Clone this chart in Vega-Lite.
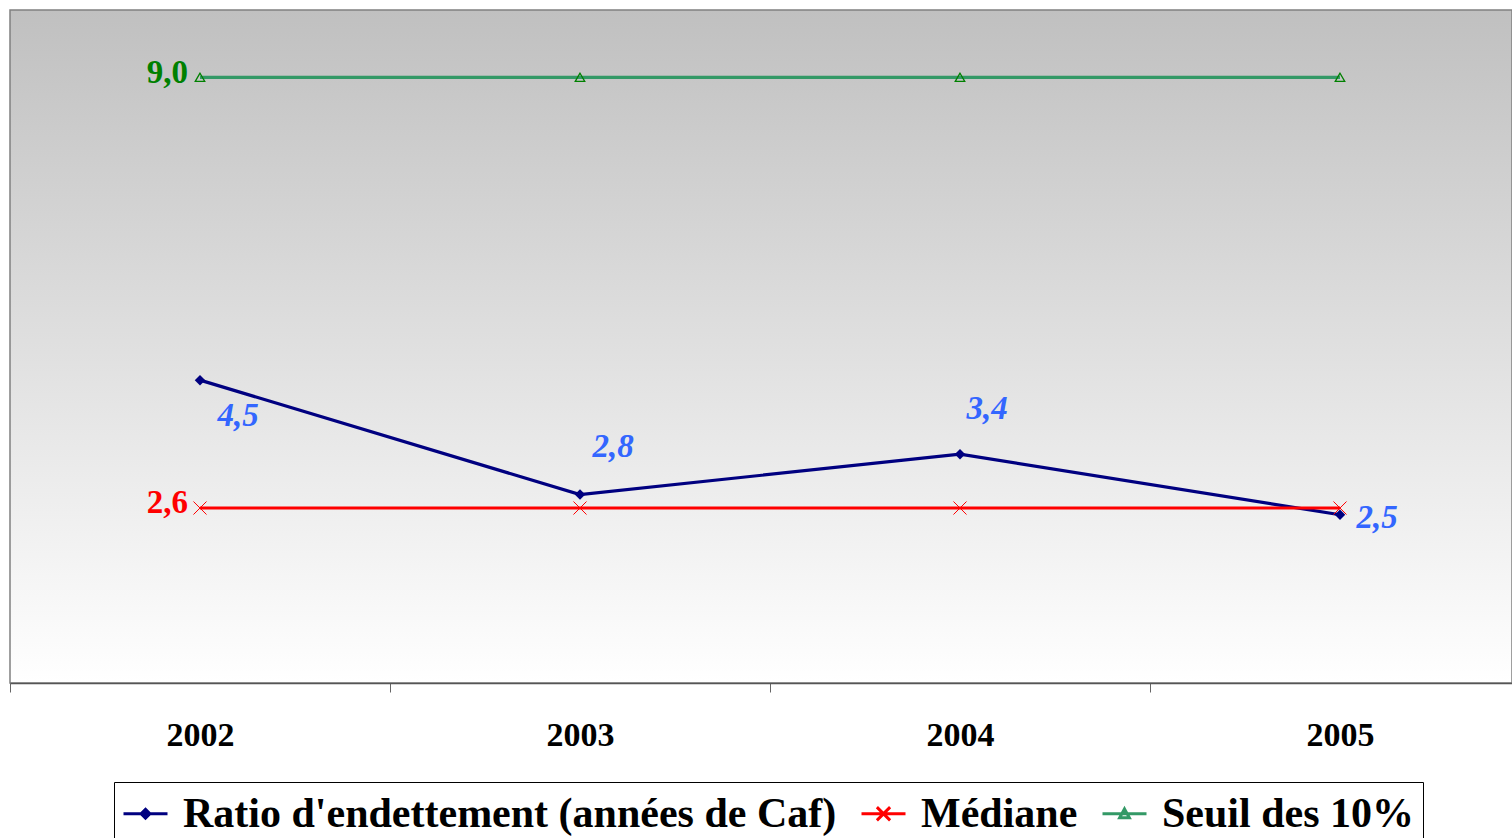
{
  "$schema": "https://vega.github.io/schema/vega-lite/v6.json",
  "width": 1502,
  "height": 673,
  "autosize": {"type": "none"},
  "padding": {"left": 10, "top": 10, "right": 0, "bottom": 155},
  "background": "white",
  "config": {
    "view": {
      "fill": {"gradient": "linear", "x1": 0, "y1": 0, "x2": 0, "y2": 1,
        "stops": [{"offset": 0, "color": "#c0c0c0"}, {"offset": 1, "color": "#ffffff"}]},
      "stroke": "#808080",
      "strokeWidth": 1.5
    },
    "font": "Liberation Serif"
  },
  "data": {
    "values": [
      {"year": "2002", "serie": "Ratio d'endettement (années de Caf)", "value": 4.5, "label": "4,5"},
      {"year": "2003", "serie": "Ratio d'endettement (années de Caf)", "value": 2.8, "label": "2,8"},
      {"year": "2004", "serie": "Ratio d'endettement (années de Caf)", "value": 3.4, "label": "3,4"},
      {"year": "2005", "serie": "Ratio d'endettement (années de Caf)", "value": 2.5, "label": "2,5"},
      {"year": "2002", "serie": "Médiane", "value": 2.6, "label": "2,6"},
      {"year": "2003", "serie": "Médiane", "value": 2.6, "label": "2,6"},
      {"year": "2004", "serie": "Médiane", "value": 2.6, "label": "2,6"},
      {"year": "2005", "serie": "Médiane", "value": 2.6, "label": "2,6"},
      {"year": "2002", "serie": "Seuil des 10%", "value": 9.0, "label": "9,0"},
      {"year": "2003", "serie": "Seuil des 10%", "value": 9.0, "label": "9,0"},
      {"year": "2004", "serie": "Seuil des 10%", "value": 9.0, "label": "9,0"},
      {"year": "2005", "serie": "Seuil des 10%", "value": 9.0, "label": "9,0"}
    ]
  },
  "encoding": {
    "x": {
      "field": "year", "type": "ordinal",
      "scale": {"range": [0, 1520], "paddingInner": 0, "paddingOuter": 0},
      "axis": {
        "title": null, "labelAngle": 0, "tickBand": "extent",
        "labelFont": "Liberation Serif", "labelFontSize": 34, "labelFontWeight": "bold", "labelColor": "black",
        "labelPadding": 26, "tickSize": 9, "tickColor": "#666666", "tickWidth": 1,
        "domainColor": "#555555", "domainWidth": 1.5, "grid": false
      }
    },
    "y": {"field": "value", "type": "quantitative", "scale": {"domain": [0, 10]}, "axis": null}
  },
  "layer": [
    {
      "mark": {"type": "line", "strokeWidth": 3.2},
      "encoding": {
        "color": {
          "field": "serie", "type": "nominal",
          "scale": {"domain": ["Ratio d'endettement (années de Caf)", "Médiane", "Seuil des 10%"],
                    "range": ["#000080", "#ff0000", "#339966"]},
          "legend": {
            "orient": "none", "legendX": 104, "legendY": 772, "direction": "horizontal", "title": null,
            "labelFont": "Liberation Serif", "labelFontSize": 42, "labelFontWeight": "bold", "labelColor": "black",
            "labelLimit": 2000, "symbolSize": 1936, "symbolStrokeWidth": 3, "labelOffset": 14,
            "columnPadding": 18, "padding": 8, "strokeColor": "black", "fillColor": "white",
            "encode": {
              "symbols": {
                "update": {
                  "shape": {"signal": "datum.value === 'Médiane' ? 'M-1,0L1,0M-0.3,-0.3L0.3,0.3M-0.3,0.3L0.3,-0.3' : (datum.value === 'Seuil des 10%' ? 'M-1,0L1,0M0,-0.22L0.22,0.18L-0.22,0.18Z' : 'M-1,0L1,0M0,-0.2L0.2,0L0,0.2L-0.2,0Z')"},
                  "fill": {"signal": "(datum.value === 'Médiane' || datum.value === 'Seuil des 10%') ? 'transparent' : '#000080'"}
                }
              }
            }
          }
        }
      }
    },
    {
      "transform": [{"filter": "datum.serie === 'Médiane'"}],
      "mark": {"type": "point", "shape": "M-1,-1L1,1M-1,1L1,-1", "filled": false, "color": "#ff0000", "strokeWidth": 1, "size": 170, "opacity": 1}
    },
    {
      "transform": [{"filter": "datum.serie === 'Seuil des 10%'"}],
      "mark": {"type": "point", "shape": "triangle-up", "filled": false, "color": "#008000", "strokeWidth": 1.3, "size": 90, "opacity": 1}
    },
    {
      "transform": [{"filter": "indexof(datum.serie, 'Ratio') === 0"}],
      "mark": {"type": "point", "shape": "diamond", "filled": true, "color": "#000080", "size": 110, "opacity": 1}
    },
    {
      "transform": [{"filter": "indexof(datum.serie, 'Ratio') === 0 && datum.year === '2002'"}],
      "mark": {"type": "text", "font": "Liberation Serif", "fontSize": 33, "fontWeight": "bold", "fontStyle": "italic", "color": "#3366ff", "baseline": "middle", "align": "center", "dx": 38, "dy": 36},
      "encoding": {"text": {"field": "label"}}
    },
    {
      "transform": [{"filter": "indexof(datum.serie, 'Ratio') === 0 && datum.year === '2003'"}],
      "mark": {"type": "text", "font": "Liberation Serif", "fontSize": 33, "fontWeight": "bold", "fontStyle": "italic", "color": "#3366ff", "baseline": "middle", "align": "center", "dx": 33, "dy": -48},
      "encoding": {"text": {"field": "label"}}
    },
    {
      "transform": [{"filter": "indexof(datum.serie, 'Ratio') === 0 && datum.year === '2004'"}],
      "mark": {"type": "text", "font": "Liberation Serif", "fontSize": 33, "fontWeight": "bold", "fontStyle": "italic", "color": "#3366ff", "baseline": "middle", "align": "center", "dx": 27, "dy": -45},
      "encoding": {"text": {"field": "label"}}
    },
    {
      "transform": [{"filter": "indexof(datum.serie, 'Ratio') === 0 && datum.year === '2005'"}],
      "mark": {"type": "text", "font": "Liberation Serif", "fontSize": 33, "fontWeight": "bold", "fontStyle": "italic", "color": "#3366ff", "baseline": "middle", "align": "center", "dx": 37, "dy": 3},
      "encoding": {"text": {"field": "label"}}
    },
    {
      "transform": [{"filter": "datum.serie === 'Médiane' && datum.year === '2002'"}],
      "mark": {"type": "text", "font": "Liberation Serif", "fontSize": 33, "fontWeight": "bold", "color": "#ff0000", "baseline": "middle", "align": "right", "dx": -12, "dy": -5},
      "encoding": {"text": {"field": "label"}}
    },
    {
      "transform": [{"filter": "datum.serie === 'Seuil des 10%' && datum.year === '2002'"}],
      "mark": {"type": "text", "font": "Liberation Serif", "fontSize": 33, "fontWeight": "bold", "color": "#008000", "baseline": "middle", "align": "right", "dx": -12, "dy": -4},
      "encoding": {"text": {"field": "label"}}
    }
  ]
}
